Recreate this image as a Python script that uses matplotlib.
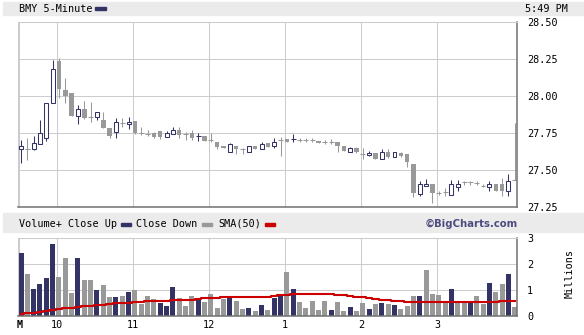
import numpy as np
import matplotlib.pyplot as plt
from matplotlib.patches import Rectangle

# BMY 5-minute candles, 9:30 .. 4:00 (79 bars)
opens = [27.642, 27.646, 27.645, 27.68, 27.72, 27.953, 28.238, 28.043, 28.02, 27.869,
         27.914, 27.858, 27.858, 27.838, 27.784, 27.761, 27.818, 27.813, 27.831, 27.75,
         27.745, 27.754, 27.765, 27.727, 27.745, 27.772, 27.745, 27.754, 27.73, 27.732,
         27.705, 27.693, 27.664, 27.626, 27.664, 27.642, 27.626, 27.664, 27.642, 27.682,
         27.666, 27.705, 27.71, 27.711, 27.707, 27.707, 27.705, 27.70, 27.689, 27.693,
         27.689, 27.664, 27.626, 27.649, 27.608, 27.601, 27.615, 27.576, 27.626, 27.592,
         27.615, 27.608, 27.543, 27.34, 27.394, 27.407, 27.349, 27.356, 27.333, 27.389,
         27.419, 27.419, 27.412, 27.396, 27.389, 27.405, 27.407, 27.362, 27.435]
highs = [27.705, 27.72, 27.73, 27.84, 27.953, 28.245, 28.26, 28.124, 28.02, 27.939,
         27.97, 27.964, 27.892, 27.896, 27.784, 27.855, 27.855, 27.858, 27.831, 27.79,
         27.77, 27.76, 27.765, 27.765, 27.795, 27.79, 27.76, 27.775, 27.754, 27.732,
         27.75, 27.693, 27.664, 27.687, 27.664, 27.653, 27.664, 27.664, 27.69, 27.682,
         27.716, 27.727, 27.71, 27.745, 27.72, 27.72, 27.72, 27.70, 27.705, 27.71,
         27.689, 27.664, 27.66, 27.655, 27.649, 27.63, 27.615, 27.642, 27.642, 27.625,
         27.625, 27.608, 27.543, 27.428, 27.44, 27.407, 27.36, 27.378, 27.434, 27.434,
         27.43, 27.43, 27.425, 27.405, 27.428, 27.405, 27.446, 27.475, 27.82]
lows = [27.547, 27.57, 27.64, 27.68, 27.70, 27.953, 27.986, 27.953, 27.869, 27.81,
        27.85, 27.824, 27.84, 27.788, 27.72, 27.72, 27.795, 27.78, 27.745, 27.74,
        27.73, 27.72, 27.71, 27.727, 27.745, 27.72, 27.705, 27.705, 27.70, 27.70,
        27.689, 27.642, 27.649, 27.626, 27.608, 27.608, 27.626, 27.642, 27.642, 27.66,
        27.649, 27.60, 27.689, 27.689, 27.69, 27.69, 27.69, 27.682, 27.676, 27.68,
        27.626, 27.63, 27.626, 27.62, 27.574, 27.595, 27.576, 27.576, 27.58, 27.59,
        27.59, 27.52, 27.322, 27.326, 27.394, 27.28, 27.33, 27.326, 27.333, 27.362,
        27.40, 27.40, 27.40, 27.39, 27.362, 27.36, 27.326, 27.326, 27.435]
closes = [27.664, 27.646, 27.685, 27.75, 27.953, 28.184, 28.047, 28.004, 27.869, 27.912,
          27.855, 27.858, 27.892, 27.788, 27.732, 27.828, 27.818, 27.828, 27.75, 27.75,
          27.745, 27.723, 27.723, 27.754, 27.772, 27.739, 27.745, 27.72, 27.73, 27.70,
          27.705, 27.655, 27.649, 27.676, 27.642, 27.642, 27.664, 27.642, 27.676, 27.66,
          27.693, 27.705, 27.689, 27.711, 27.707, 27.707, 27.705, 27.682, 27.689, 27.693,
          27.666, 27.63, 27.649, 27.626, 27.608, 27.619, 27.576, 27.622, 27.592, 27.622,
          27.597, 27.554, 27.345, 27.405, 27.407, 27.345, 27.349, 27.356, 27.407, 27.407,
          27.419, 27.419, 27.412, 27.396, 27.407, 27.36, 27.36, 27.43, 27.435]
dark_doji = [28, 43]

# volume in millions, 1 = close up, 0 = close down
volume = [2.40, 1.63, 1.05, 1.24, 1.47, 2.76, 1.51, 2.24, 0.90, 2.21,
          1.37, 1.37, 1.01, 1.21, 0.74, 0.74, 0.78, 0.94, 1.01, 0.47,
          0.78, 0.67, 0.51, 0.40, 1.13, 0.71, 0.40, 0.78, 0.67, 0.55,
          0.86, 0.32, 0.67, 0.74, 0.59, 0.28, 0.32, 0.21, 0.44, 0.24,
          0.71, 0.85, 1.68, 1.05, 0.55, 0.32, 0.59, 0.24, 0.59, 0.24,
          0.55, 0.21, 0.36, 0.21, 0.51, 0.28, 0.47, 0.51, 0.47, 0.44,
          0.28, 0.40, 0.78, 0.78, 1.78, 0.86, 0.82, 0.55, 1.05, 0.55,
          0.55, 0.55, 0.78, 0.47, 1.28, 0.94, 1.24, 1.63, 0.36]
vol_up = [1, 0, 1, 1, 1, 1, 0, 0, 0, 1, 0, 0, 1, 0, 0, 1, 0, 1, 0, 0,
          0, 0, 1, 1, 1, 0, 0, 0, 1, 0, 0, 0, 0, 1, 0, 0, 1, 0, 1, 0,
          1, 1, 0, 1, 0, 0, 0, 0, 0, 1, 0, 0, 1, 0, 0, 1, 0, 1, 0, 1,
          0, 0, 0, 1, 0, 0, 0, 0, 1, 0, 0, 1, 0, 0, 1, 0, 0, 1, 0]
sma50 = [0.10, 0.12, 0.14, 0.17, 0.21, 0.25, 0.28, 0.31, 0.33, 0.36,
         0.38, 0.41, 0.43, 0.45, 0.47, 0.49, 0.50, 0.52, 0.54, 0.56,
         0.57, 0.58, 0.59, 0.60, 0.61, 0.62, 0.63, 0.64, 0.66, 0.68,
         0.70, 0.71, 0.72, 0.73, 0.74, 0.74, 0.74, 0.74, 0.74, 0.74,
         0.76, 0.80, 0.82, 0.84, 0.86, 0.87, 0.87, 0.87, 0.87, 0.86,
         0.83, 0.80, 0.77, 0.74, 0.72, 0.69, 0.66, 0.64, 0.62, 0.60,
         0.58, 0.56, 0.56, 0.56, 0.56, 0.56, 0.56, 0.56, 0.56, 0.56,
         0.56, 0.56, 0.56, 0.56, 0.56, 0.56, 0.59, 0.59, 0.59]

hour_labels = ['10', '11', '12', '1', '2', '3']
hour_bars = [6, 18, 30, 42, 54, 66]
price_ticks = [27.25, 27.50, 27.75, 28.00, 28.25, 28.50]
vol_ticks = [0, 1, 2, 3]

W, H = 584, 335
NAVY = '#333366'
GRAY = '#999999'
GRID = '#cccccc'
BAND = '#ebebeb'
EDGE = '#707070'
RED = '#cc0000'
MONO = 'DejaVu Sans Mono'
FS = 7.3


def box(l, t, r, b):
    return [l / W, 1 - b / H, (r - l) / W, (b - t) / H]


def fx(x):
    return x / W


def fy(y):
    return 1 - y / H


fig = plt.figure(figsize=(W / 100, H / 100), dpi=100)

# header bands
for top, bot in [(1.7, 15), (213, 232)]:
    fig.patches.append(Rectangle((fx(3), fy(bot)), fx(584 - 3), (bot - top) / H,
                                 transform=fig.transFigure, color=BAND, zorder=0))

fig.text(fx(19), fy(8.5), 'BMY 5-Minute', family=MONO, size=FS, va='center')
fig.patches.append(Rectangle((fx(95), fy(10)), fx(11), 3 / H, transform=fig.transFigure, color=NAVY))
fig.text(fx(525), fy(8.5), '5:49 PM', family=MONO, size=FS, va='center')

fig.text(fx(19), fy(224), 'Volume+ Close Up', family=MONO, size=FS, va='center')
fig.patches.append(Rectangle((fx(121), fy(226)), fx(9.5), 3 / H, transform=fig.transFigure, color=NAVY))
fig.text(fx(136.5), fy(224), 'Close Down', family=MONO, size=FS, va='center')
fig.patches.append(Rectangle((fx(202), fy(226)), fx(10), 3 / H, transform=fig.transFigure, color=GRAY))
fig.text(fx(218.3), fy(224), 'SMA(50)', family=MONO, size=FS, va='center')
fig.patches.append(Rectangle((fx(265), fy(226)), fx(10), 3 / H, transform=fig.transFigure, color=RED))
fig.text(fx(518), fy(223.5), '\u00a9BigCharts.com', family='DejaVu Sans', weight='bold',
         size=7.3, color='#4d4d80', ha='right', va='center')

fig.text(fx(569.5), fy(274), 'Millions', family=MONO, size=FS, rotation=90,
         ha='center', va='center')
fig.text(fx(19.5), fy(325), 'M', family=MONO, size=FS, weight='bold', ha='center', va='center')

# x scale: bar pitch 6.33 px, bar 0 centred at px 21
x0 = (17.7 - 21) / 6.33
x1 = (516.7 - 21) / 6.33
grid_x = [-0.25] + [b - 0.25 for b in hour_bars]


def style_axes(a):
    a.set_xlim(x0, x1)
    a.set_axisbelow(True)
    for s in ['left', 'top']:
        a.spines[s].set_color(GRID)
        a.spines[s].set_linewidth(0.75)
    for s in ['right', 'bottom']:
        a.spines[s].set_color(EDGE)
        a.spines[s].set_linewidth(1.1)
    a.yaxis.tick_right()
    a.tick_params(length=0, labelsize=FS, pad=7.5)
    for lab in a.get_yticklabels():
        lab.set_family(MONO)
    for gx in grid_x:
        a.axvline(gx, color=GRID, lw=0.75, zorder=0)
    a.grid(axis='y', color=GRID, lw=0.75)


# price panel
ax = fig.add_axes(box(17.7, 22.3, 516.7, 207.3))
o = np.array(opens)
h = np.array(highs)
l = np.array(lows)
c = np.array(closes)
x = np.arange(len(o))
up = c > o
dn = c < o
doji = c == o
ax.set_ylim(27.25, 28.5)
ax.set_yticks(price_ticks, labels=['%.2f' % p for p in price_ticks])
ax.set_xticks([])
style_axes(ax)

ax.vlines(x[dn], l[dn], h[dn], color=GRAY, lw=0.75, zorder=2)
ax.bar(x[dn], (o - c)[dn], bottom=c[dn], width=0.7, color=GRAY, lw=0, zorder=3)
ax.vlines(x[up], l[up], h[up], color=NAVY, lw=0.75, zorder=2)
ax.bar(x[up], (c - o)[up], bottom=o[up], width=0.62, facecolor='white',
       edgecolor=NAVY, lw=0.75, zorder=3)
doji_col = [NAVY if i in dark_doji else GRAY for i in x[doji]]
ax.vlines(x[doji], l[doji], h[doji], colors=doji_col, lw=0.75, zorder=2)
ax.hlines(c[doji], x[doji] - 0.38, x[doji] + 0.38, colors=doji_col, lw=0.75, zorder=2)

# volume panel
ax2 = fig.add_axes(box(17.7, 237.7, 516.7, 316.3))
ax2.set_ylim(0, 3)
ax2.set_yticks(vol_ticks, labels=[str(v) for v in vol_ticks])
style_axes(ax2)
ax2.set_xticks([b - 0.25 for b in hour_bars], labels=hour_labels)
ax2.tick_params(axis='x', pad=3)
for lab in ax2.get_xticklabels():
    lab.set_family(MONO)
ax2.grid(axis='x', visible=False)
ax2.bar(x, volume, width=0.79, color=[NAVY if u else GRAY for u in vol_up], lw=0, zorder=2)
ax2.plot(x, sma50, drawstyle='steps-mid', color=RED, lw=1.5, zorder=3)

fig.savefig('out.png', dpi=100, facecolor='white')
